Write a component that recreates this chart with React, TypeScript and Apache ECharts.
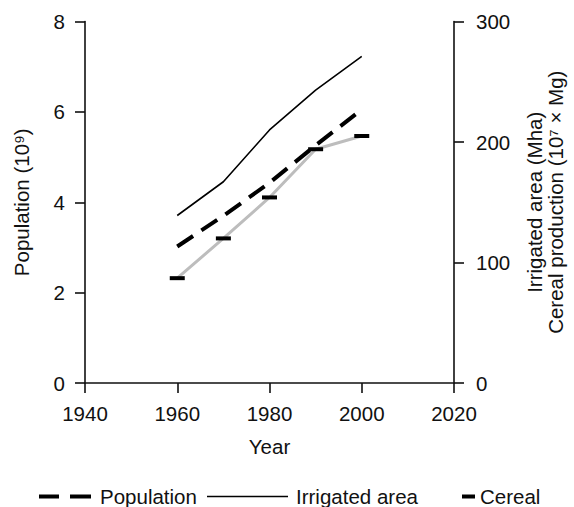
import React, { useEffect, useRef } from "react";
import * as echarts from "echarts";

const years = [1960, 1970, 1980, 1990, 2000];
const population = [3.02, 3.7, 4.43, 5.26, 6.05];
const irrigatedArea = [139, 167, 210, 243, 271];
const cerealProduction = [87, 120, 154, 194, 205];
const xTicks = { min: 1940, max: 2020, interval: 20 };
const leftTicks = { min: 0, max: 8, interval: 2 };
const rightTicks = { min: 0, max: 300, interval: 100 };

const FONT = "'Liberation Sans', Arial, Helvetica, sans-serif";
const FS = 20.5;

export default function App() {
  const ref = useRef<HTMLDivElement>(null);
  useEffect(() => {
    document.body.style.margin = "0";
    const chart = echarts.init(ref.current!, null, { renderer: "svg" });
    const axisLine = { show: true, lineStyle: { color: "#111", width: 1.6 } };
    const axisTick = { show: true, length: 10, lineStyle: { color: "#111", width: 1.6 } };
    const axisLabel = { color: "#111", fontSize: FS, fontFamily: FONT, margin: 20 };
    const nameTextStyle = { color: "#111", fontSize: FS, fontFamily: FONT };
    const legendText = { color: "#111", fontSize: FS, fontFamily: FONT, lineHeight: 20 };
    const legendTop = 486;
    chart.setOption({
      animation: false,
      textStyle: { fontFamily: FONT },
      grid: { left: 85, right: 120, top: 21.5, bottom: 124 },
      xAxis: {
        type: "value",
        ...xTicks,
        name: "Year",
        nameLocation: "middle",
        nameGap: 53,
        nameTextStyle,
        axisLine,
        axisTick,
        axisLabel: { ...axisLabel, formatter: (v: number) => String(v) },
        splitLine: { show: false },
      },
      yAxis: [
        {
          type: "value",
          position: "left",
          ...leftTicks,
          name: "Population (10⁹)",
          nameLocation: "middle",
          nameGap: 53,
          nameTextStyle,
          axisLine,
          axisTick,
          axisLabel,
          splitLine: { show: false },
        },
        {
          type: "value",
          position: "right",
          ...rightTicks,
          name: "Irrigated area (Mha)\nCereal production (10⁷ × Mg)",
          nameLocation: "middle",
          nameGap: 70,
          nameTextStyle: { ...nameTextStyle, lineHeight: 21 },
          axisLine,
          axisTick,
          axisLabel: { ...axisLabel, margin: 22 },
          splitLine: { show: false },
        },
      ],
      legend: [
        {
          left: 39,
          top: legendTop,
          padding: 0,
          itemWidth: 52,
          itemHeight: 4,
          textStyle: { ...legendText, padding: [0, 0, 0, 4] },
          data: [{ name: "Population", icon: "path://M0,0h20v4h-20z M31,0h21v4h-21z", itemStyle: { color: "#000" } }],
        },
        {
          left: 207,
          top: legendTop,
          padding: 0,
          itemWidth: 81,
          itemHeight: 1.6,
          textStyle: { ...legendText, padding: [0, 0, 0, 3] },
          data: [{ name: "Irrigated area", icon: "rect", itemStyle: { color: "#000" } }],
        },
        {
          left: 462,
          top: legendTop,
          padding: 0,
          itemWidth: 13,
          itemHeight: 4,
          textStyle: legendText,
          data: [{ name: "Cereal", icon: "rect", itemStyle: { color: "#000" } }],
        },
      ],
      series: [
        {
          name: "Population",
          type: "line",
          yAxisIndex: 0,
          data: years.map((y, i) => [y, population[i]]),
          symbol: "none",
          color: "#000",
          lineStyle: { color: "#000", width: 4, type: [19, 10], cap: "butt" },
          z: 3,
        },
        {
          name: "Irrigated area",
          type: "line",
          yAxisIndex: 1,
          data: years.map((y, i) => [y, irrigatedArea[i]]),
          symbol: "none",
          color: "#000",
          lineStyle: { color: "#000", width: 1.6 },
          z: 3,
        },
        {
          name: "Cereal",
          type: "line",
          yAxisIndex: 1,
          data: years.map((y, i) => [y, cerealProduction[i]]),
          symbol: "rect",
          symbolSize: [15, 4],
          showSymbol: true,
          itemStyle: { color: "#000" },
          lineStyle: { color: "#bdbdbd", width: 3 },
          z: 2,
        },
      ],
    });
    return () => chart.dispose();
  }, []);
  return <div ref={ref} style={{ width: 574, height: 507 }} />;
}
